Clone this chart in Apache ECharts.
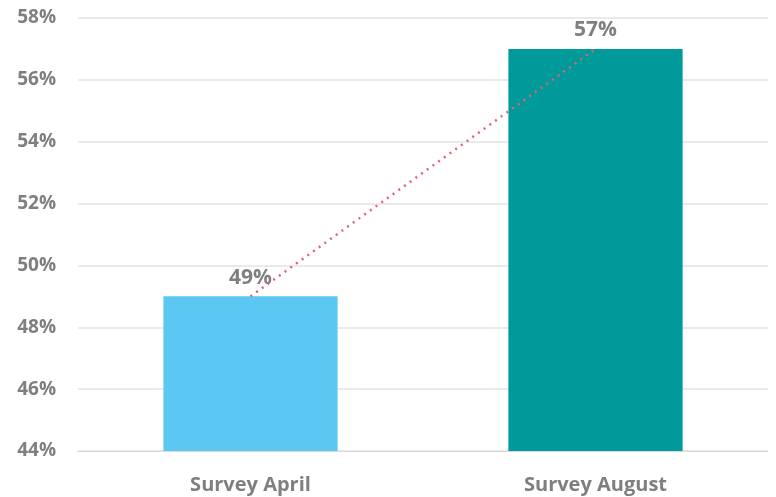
<!DOCTYPE html>
<html>
<head>
<meta charset="utf-8">
<script src="https://cdn.jsdelivr.net/npm/echarts@6/dist/echarts.min.js"></script>
<style>html,body{margin:0;padding:0;background:#fff}#c{width:776px;height:497px}</style>
</head>
<body>
<div id="c"></div>
<script>
const categories = ['Survey April', 'Survey August'];
const values = [49, 57];
const barColors = ['#5BC8F3', '#009A9A'];
const yMin = 44, yMax = 58, yStep = 2;

const chart = echarts.init(document.getElementById('c'), null, {renderer: 'canvas'});
const font = '"Open Sans", sans-serif';
chart.setOption({
  animation: false,
  grid: {left: 78, right: 8, top: 18, bottom: 46},
  xAxis: {
    type: 'category',
    data: categories,
    axisLine: {lineStyle: {color: '#D9D9D9', width: 1}},
    axisTick: {show: false},
    axisLabel: {color: '#7F7F7F', fontFamily: font, fontWeight: 'bold', fontSize: 20, margin: 24}
  },
  yAxis: {
    type: 'value',
    min: yMin, max: yMax, interval: yStep,
    axisLine: {show: false},
    axisTick: {show: false},
    splitLine: {lineStyle: {color: '#E3E3E3', width: 1.5}},
    axisLabel: {color: '#7F7F7F', fontFamily: font, fontWeight: 'bold', fontSize: 19, margin: 22, formatter: '{value}%'}
  },
  series: [
    {
      type: 'bar',
      barWidth: '50.5%',
      data: values.map((v, i) => ({value: v, itemStyle: {color: barColors[i]}})),
      label: {show: true, position: 'top', distance: 8, color: '#7F7F7F', fontFamily: font, fontWeight: 'bold', fontSize: 21, formatter: '{c}%'}
    },
    {
      type: 'line',
      data: values,
      symbol: 'none',
      z: 5,
      lineStyle: {color: '#E2636E', width: 2.5, type: [2, 5]}
    }
  ]
});
</script>
</body>
</html>
